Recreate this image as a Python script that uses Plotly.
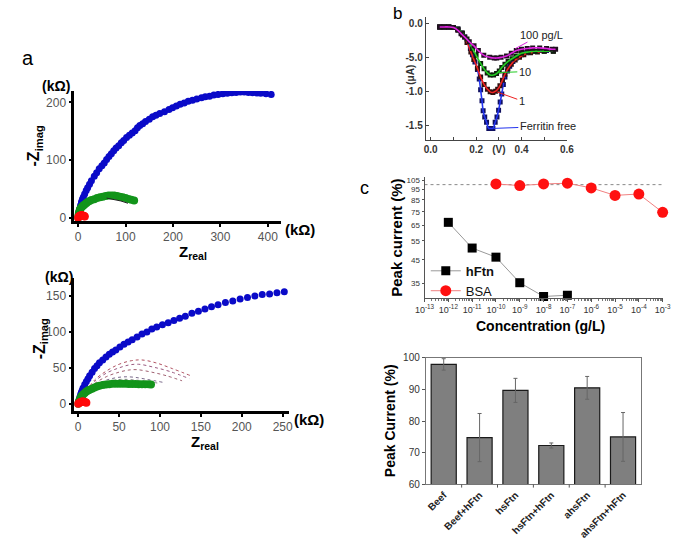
import plotly.graph_objects as go

W, H = 685, 545
FONT = "Liberation Sans, Arial, sans-serif"

# ---------------- Panel a (top): Nyquist ----------------
a1_blue_x = [0, 0.5, 1, 1.5, 2, 2.5, 3.4, 5, 7, 9, 11, 13.7, 17, 20, 24, 28, 34, 39, 44.4, 50, 55, 60, 65, 70, 75, 80, 85.5, 91, 96, 102, 108, 114, 120, 125, 130, 136, 142, 150, 157, 164, 172, 182, 191.5, 199, 207, 215, 223.6, 232, 241, 250, 260, 268, 277, 286, 295, 305, 314.5, 324, 333, 342, 350, 359, 368, 377, 385, 396, 407]
a1_blue_y = [0, 2.5, 5, 7.5, 10, 12.5, 15, 21, 27, 32, 36, 41, 47, 52, 58, 64, 72, 78, 85, 90, 95, 101, 106, 111, 116, 121, 125, 130, 134, 139, 143, 147, 151, 156, 160, 163, 167, 171, 175, 178, 181, 184, 188, 191, 194, 197, 199, 202, 204, 206, 208, 210, 211, 213, 214, 215, 216, 217, 217.5, 218, 218, 217.5, 217, 216.5, 216, 215, 214]
a1_green_x = [0, 0.5, 1, 2, 3, 4, 5, 7, 9, 11, 13.7, 17, 20, 24, 28, 34, 40, 46, 52, 58, 64, 70, 76, 82, 88, 94, 100, 106, 112, 118]
a1_green_y = [0, 3, 6, 9, 12, 14, 16, 18, 20, 21, 23, 25, 27, 29, 30.5, 32, 34, 35.5, 36.5, 37.5, 38.3, 38.5, 38.3, 37.5, 36.5, 35.5, 34, 32.5, 31, 30]
a1_fit_x = [60, 75, 90, 105]
a1_fit_y = [34, 32, 29, 25]
a1_red_x = [0, 1, 2, 3, 4, 5, 6, 7, 8, 9, 10, 11, 12, 13, 14]
a1_red_y = [0, 1.5, 2.5, 3, 3.5, 3.8, 4, 4, 4, 3.8, 3.5, 3.2, 3, 2.5, 2]
a1_xticks = [0, 100, 200, 300, 400]
a1_yticks = [0, 100, 200]

# ---------------- Panel a (bottom): Nyquist ----------------
a2_blue_x = [0, 1, 2, 3, 4, 5, 6, 8, 10, 12, 14, 17, 20, 23, 26, 30, 34, 38, 42, 46, 51, 56, 61, 66, 72, 78, 84, 90, 96, 103, 110, 117, 124, 131, 139, 147, 155, 163, 171, 180, 189, 198, 207, 216, 225, 234, 243, 252]
a2_blue_y = [0, 5, 9, 13, 16, 19, 22, 27, 31, 35, 39, 44, 49, 53, 57, 61, 65, 69, 72, 75, 79, 83, 86, 89, 93, 97, 100, 104, 107, 110, 113, 116, 119, 122, 126, 129, 132, 135, 138, 141, 143, 146, 148, 150, 152, 153, 154.5, 156]
a2_green_x = [0, 1, 2, 3, 4, 5, 6, 8, 10, 12, 14, 17, 20, 23, 26, 30, 34, 38, 42, 46, 50, 54, 58, 62, 66, 70, 74, 78, 82, 86, 89]
a2_green_y = [0, 3, 6, 8.5, 10.5, 12, 13, 15, 17, 18.5, 19.5, 21, 22.5, 24, 25, 26, 26.8, 27.3, 27.8, 28, 28, 28, 27.8, 27.6, 27.5, 27.4, 27.3, 27.3, 27.2, 27.1, 27]
a2_red_x = [0, 1, 2, 3, 4, 5, 6, 7, 8, 9, 10]
a2_red_y = [0, 1, 1.8, 2.4, 2.8, 3, 3, 2.8, 2.5, 2, 1.5]
a2_dot1_x = [10, 20, 35, 50, 65, 78, 95, 115, 140]
a2_dot1_y = [18, 33, 46, 55, 60, 61, 57, 49, 38]
a2_dot2_x = [10, 20, 35, 50, 62, 74, 92, 112, 136]
a2_dot2_y = [17, 31, 43, 50, 54, 55, 51, 45, 35]
a2_dot3_x = [10, 20, 35, 50, 62, 72, 90, 108, 127]
a2_dot3_y = [16, 28, 38, 44, 47, 47.5, 44, 39, 32]
a2_dot4_x = [10, 20, 32, 45, 56, 68, 84, 103]
a2_dot4_y = [15, 25, 32, 36, 37.5, 37, 34, 30]
a2_dot5_x = [10, 20, 30, 42, 53, 66, 82, 99]
a2_dot5_y = [14, 23, 29, 32.5, 34, 33.5, 31.5, 28.5]
a2_xticks = [0, 50, 100, 150, 200, 250]
a2_yticks = [0, 50, 100, 150]

# ---------------- Panel b: DPV ----------------
b_free_x = [0.04, 0.06, 0.08, 0.10, 0.12, 0.135, 0.15, 0.163, 0.175, 0.184, 0.195, 0.206, 0.214, 0.22, 0.226, 0.231, 0.238, 0.246, 0.256, 0.265, 0.274, 0.284, 0.292, 0.299, 0.306, 0.313, 0.32, 0.327, 0.338, 0.348, 0.362, 0.377, 0.40, 0.42, 0.45, 0.48, 0.51, 0.54]
b_free_y = [-0.05, -0.05, -0.05, -0.06, -0.08, -0.14, -0.20, -0.27, -0.37, -0.46, -0.57, -0.68, -0.82, -0.98, -1.14, -1.29, -1.38, -1.46, -1.55, -1.55, -1.55, -1.46, -1.38, -1.28, -1.16, -1.04, -0.90, -0.79, -0.70, -0.63, -0.56, -0.51, -0.46, -0.43, -0.41, -0.40, -0.40, -0.40]
b_1_x = [0.04, 0.06, 0.08, 0.10, 0.12, 0.14, 0.16, 0.177, 0.19, 0.206, 0.22, 0.235, 0.25, 0.262, 0.274, 0.286, 0.295, 0.305, 0.316, 0.327, 0.34, 0.355, 0.372, 0.391, 0.41, 0.44, 0.47, 0.50, 0.54]
b_1_y = [-0.05, -0.05, -0.05, -0.06, -0.09, -0.17, -0.28, -0.42, -0.53, -0.66, -0.79, -0.90, -0.97, -1.01, -1.02, -1.00, -0.97, -0.92, -0.84, -0.75, -0.67, -0.60, -0.54, -0.50, -0.46, -0.43, -0.42, -0.41, -0.41]
b_10_x = [0.04, 0.06, 0.08, 0.10, 0.12, 0.14, 0.16, 0.184, 0.20, 0.22, 0.235, 0.249, 0.262, 0.277, 0.29, 0.302, 0.313, 0.327, 0.341, 0.358, 0.377, 0.40, 0.43, 0.46, 0.50, 0.54]
b_10_y = [-0.05, -0.05, -0.05, -0.06, -0.08, -0.14, -0.23, -0.37, -0.47, -0.59, -0.67, -0.73, -0.76, -0.76, -0.74, -0.70, -0.65, -0.60, -0.56, -0.52, -0.48, -0.44, -0.42, -0.41, -0.41, -0.41]
b_100_x = [0.04, 0.06, 0.08, 0.10, 0.12, 0.134, 0.15, 0.17, 0.191, 0.21, 0.234, 0.26, 0.28, 0.291, 0.31, 0.334, 0.355, 0.377, 0.40, 0.425, 0.449, 0.48, 0.51, 0.534, 0.55]
b_100_y = [-0.05, -0.05, -0.05, -0.06, -0.10, -0.15, -0.20, -0.27, -0.33, -0.40, -0.47, -0.50, -0.51, -0.51, -0.50, -0.48, -0.44, -0.40, -0.38, -0.37, -0.36, -0.36, -0.37, -0.38, -0.38]
b_xtickvals = [0, 0.2, 0.3, 0.4, 0.6]
b_xticktext = ["0.0", "0.2", "(V)", "0.4", "0.6"]
b_ytickvals = [0, -0.5, -1.0, -1.5]
b_yticktext = ["0.0", "-5.0", "-1.0", "-1.5"]
b_labels = ["100 pg/L", "10", "1", "Ferritin free"]
b_label_x = [0.373, 0.30, 0.291, 0.278]
b_label_y = [-0.37, -0.725, -1.01, -1.55]

# ---------------- Panel c: concentration response ----------------
c_hftn_x = [1e-12, 1e-11, 1e-10, 1e-9, 1e-8, 1e-7]
c_hftn_y = [67, 51, 46.3, 35.3, 30.5, 30.9]
c_bsa_x = [1e-10, 1e-9, 1e-8, 1e-7, 1e-6, 1e-5, 1e-4, 1e-3]
c_bsa_y = [100.7, 99.0, 100.7, 101.5, 96.6, 89.2, 90.5, 74.5]
c_ref_x = [1e-13, 1e-3]
c_ref_y = [100, 100]
c_yticks = [35, 45, 55, 65, 75, 85, 95, 105]
c_xexp = list(range(-13, -2))

# ---------------- Bar chart ----------------
bar_cats = ["Beef", "Beef+hFtn", "hsFtn", "hsFtn+hFtn", "ahsFtn", "ahsFtn+hFtn"]
bar_vals = [97.9, 74.8, 89.7, 72.3, 90.5, 75.0]
bar_err = [1.8, 7.6, 3.8, 0.8, 3.6, 7.7]
bar_yticks = [60, 70, 80, 90, 100]


def px_dom_x(p0, p1):
    return [p0 / W, p1 / W]


def px_dom_y(top, bottom):
    return [1 - bottom / H, 1 - top / H]


fig = go.Figure()

BLUE = "#0a0ac8"
GREEN = "#12941a"
RED = "#ff0a0a"

# panel a top
fig.add_trace(go.Scatter(x=a1_blue_x, y=a1_blue_y, mode="markers", marker=dict(color=BLUE, size=7), xaxis="x", yaxis="y", showlegend=False))
fig.add_trace(go.Scatter(x=a1_green_x, y=a1_green_y, mode="markers", marker=dict(color=GREEN, size=8), xaxis="x", yaxis="y", showlegend=False))
fig.add_trace(go.Scatter(x=a1_fit_x, y=a1_fit_y, mode="lines", line=dict(color="#222", width=1), xaxis="x", yaxis="y", showlegend=False))
fig.add_trace(go.Scatter(x=a1_red_x, y=a1_red_y, mode="markers", marker=dict(color=RED, size=8), xaxis="x", yaxis="y", showlegend=False, cliponaxis=False))

# panel a bottom
for dx, dy, col in [(a2_dot1_x, a2_dot1_y, "#b05060"), (a2_dot2_x, a2_dot2_y, "#9a5a80"),
                    (a2_dot3_x, a2_dot3_y, "#a06070"), (a2_dot4_x, a2_dot4_y, "#7a6a8a"),
                    (a2_dot5_x, a2_dot5_y, "#8a8a8a")]:
    fig.add_trace(go.Scatter(x=dx, y=dy, mode="lines", line=dict(color=col, width=1, dash="dot", shape="spline"),
                             xaxis="x2", yaxis="y2", showlegend=False))
fig.add_trace(go.Scatter(x=a2_blue_x, y=a2_blue_y, mode="markers", marker=dict(color=BLUE, size=7), xaxis="x2", yaxis="y2", showlegend=False))
fig.add_trace(go.Scatter(x=a2_green_x, y=a2_green_y, mode="markers", marker=dict(color=GREEN, size=8), xaxis="x2", yaxis="y2", showlegend=False))
fig.add_trace(go.Scatter(x=a2_red_x, y=a2_red_y, mode="markers", marker=dict(color=RED, size=8), xaxis="x2", yaxis="y2", showlegend=False, cliponaxis=False))

# panel b
for bx, by, lc, mc in [(b_free_x, b_free_y, "#2233ee", "#101060"),
                       (b_1_x, b_1_y, "#ee2222", "#301010"),
                       (b_10_x, b_10_y, "#22cc22", "#102010"),
                       (b_100_x, b_100_y, "#dd22dd", "#201020")]:
    fig.add_trace(go.Scatter(x=bx, y=by, mode="markers", marker=dict(symbol="square", color=mc, size=5),
                             xaxis="x3", yaxis="y3", showlegend=False))
    fig.add_trace(go.Scatter(x=bx, y=by, mode="lines", line=dict(color=lc, width=1.6, shape="spline"),
                             xaxis="x3", yaxis="y3", showlegend=False))

# panel c
fig.add_trace(go.Scatter(x=c_ref_x, y=c_ref_y, mode="lines", line=dict(color="#888", width=1, dash="dot"),
                         xaxis="x4", yaxis="y4", showlegend=False))
fig.add_trace(go.Scatter(x=c_hftn_x, y=c_hftn_y, mode="lines+markers", name="<b>hFtn</b>",
                         line=dict(color="#999", width=1), marker=dict(symbol="square", color="black", size=9),
                         xaxis="x4", yaxis="y4", cliponaxis=False))
fig.add_trace(go.Scatter(x=c_bsa_x, y=c_bsa_y, mode="lines+markers", name="BSA",
                         line=dict(color="#f08080", width=1), marker=dict(symbol="circle", color="#ff1010", size=11),
                         xaxis="x4", yaxis="y4", cliponaxis=False))

# bar chart
fig.add_trace(go.Bar(x=bar_cats, y=bar_vals, marker=dict(color="#7f7f7f", line=dict(color="#1a1a1a", width=1.2)),
                     width=0.7, error_y=dict(type="data", array=bar_err, color="#666", thickness=1, width=2),
                     xaxis="x5", yaxis="y5", showlegend=False))

tickfont_a = dict(family=FONT, size=12, color="#555")
axis_a = dict(showline=True, linecolor="black", linewidth=2.5, ticks="outside", ticklen=3, tickwidth=2,
              tickcolor="black", showgrid=False, zeroline=False, tickfont=tickfont_a)

fig.update_layout(
    width=W, height=H, margin=dict(l=0, r=0, t=0, b=0),
    paper_bgcolor="white", plot_bgcolor="white",
    font=dict(family=FONT),
    xaxis=dict(domain=px_dom_x(66, 278), range=[-8.2, 427], tickvals=a1_xticks, anchor="y", **axis_a),
    yaxis=dict(domain=px_dom_y(86.7, 219.5), range=[-5.9, 220], tickvals=a1_yticks, anchor="x", **axis_a),
    xaxis2=dict(domain=px_dom_x(66, 287), range=[-4.8, 258.3], tickvals=a2_xticks, anchor="y2", **axis_a),
    yaxis2=dict(domain=px_dom_y(278, 413.3), range=[-10, 174.6], tickvals=a2_yticks, anchor="x2", **axis_a),
    xaxis3=dict(domain=px_dom_x(427, 572), range=[-0.0214, 0.6], tickvals=b_xtickvals, ticktext=b_xticktext,
                anchor="y3", showline=True, linecolor="#444", linewidth=1, ticks="inside", ticklen=3,
                tickcolor="#444", minor=dict(tickvals=[0.1, 0.5], ticks="inside", ticklen=3, tickcolor="#444"),
                showgrid=False, zeroline=False, tickfont=dict(family=FONT, size=10, color="#333", weight="bold")),
    yaxis3=dict(domain=px_dom_y(11, 137), range=[-1.725, 0.1], tickvals=b_ytickvals, ticktext=b_yticktext,
                anchor="x3", showline=True, linecolor="#444", linewidth=1, ticks="inside", ticklen=3,
                tickcolor="#444", showgrid=False, zeroline=False,
                tickfont=dict(family=FONT, size=10, color="#333", weight="bold")),
    xaxis4=dict(domain=px_dom_x(425.7, 671), type="log", range=[-13.0, -2.97],
                tickvals=[10.0 ** e for e in c_xexp], ticktext=["10<sup>%d</sup>" % e for e in c_xexp],
                anchor="y4", showline=True, linecolor="#555", linewidth=1, ticks="outside", ticklen=3,
                tickcolor="#555",
                minor=dict(tickvals=[k * 10.0 ** e for e in range(-13, -3) for k in range(2, 10)],
                           ticks="outside", ticklen=2, tickcolor="#777"),
                showgrid=False, zeroline=False, tickfont=dict(family=FONT, size=9, color="#333")),
    yaxis4=dict(domain=px_dom_y(175, 298.3), type="log", range=[1.476, 2.033], tickvals=c_yticks,
                anchor="x4", showline=True, linecolor="#555", linewidth=1, ticks="outside", ticklen=2,
                tickcolor="#555", showgrid=False, zeroline=False,
                tickfont=dict(family=FONT, size=8, color="#333")),
    xaxis5=dict(domain=px_dom_x(427, 648), range=[-0.5, 5.5], anchor="y5", showline=True, mirror=True,
                linecolor="#777", linewidth=1, ticks="", tickangle=-45,
                tickfont=dict(family=FONT, size=10, color="#222", weight="bold"), showgrid=False),
    yaxis5=dict(domain=px_dom_y(359, 488.3), range=[60, 100], tickvals=bar_yticks, anchor="x5", showline=True,
                mirror=True, linecolor="#777", linewidth=1, ticks="outside", ticklen=3, tickcolor="#555",
                showgrid=False, zeroline=False, tickfont=dict(family=FONT, size=10, color="#333")),
    legend=dict(x=427 / W, y=1 - 255 / H, xanchor="left", yanchor="top", bgcolor="rgba(0,0,0,0)",
                font=dict(family=FONT, size=13, color="#111"), tracegroupgap=0, itemwidth=30),
    bargap=0.3,
)

# bar chart inter-category tick marks
shapes = []
for i in range(1, 6):
    shapes.append(dict(type="line", xref="x5", yref="paper", x0=i - 0.5, x1=i - 0.5,
                       y0=1 - 488.3 / H, y1=1 - 491.5 / H, line=dict(color="#555", width=1)))
fig.update_layout(shapes=shapes)


def ann(text, px, py, size, bold=False, angle=0, color="black", xanchor="center"):
    if bold:
        text = "<b>" + text + "</b>"
    fig.add_annotation(text=text, x=px / W, y=1 - py / H, xref="paper", yref="paper", showarrow=False,
                       font=dict(family=FONT, size=size, color=color), textangle=angle,
                       xanchor=xanchor, yanchor="middle")


ann("a", 18, 53, 20)
ann("(kΩ)", 47, 82, 14, bold=True)
ann("-Z<sub>imag</sub>", 25, 143, 16, bold=True, angle=-90)
ann("Z<sub>real</sub>", 188, 252, 15, bold=True)
ann("(kΩ)", 298, 228, 15, bold=True)
ann("(kΩ)", 50, 277, 14, bold=True)
ann("-Z<sub>imag</sub>", 31, 340, 16, bold=True, angle=-90)
ann("Z<sub>real</sub>", 200, 445, 15, bold=True)
ann("(kΩ)", 307, 422, 15, bold=True)
ann("b", 398, 8, 17)
ann("(μA)", 411, 70, 10, bold=True, angle=-90, color="#333")
ann("c", 364, 186, 18)
ann("Peak current (%)", 397, 237, 15, bold=True, angle=-90)
ann("Concentration (g/L)", 545, 327, 14, bold=True)
ann("Peak Current (%)", 391, 423, 14, bold=True, angle=-90)

# panel b labels with leader lines (text box centred at the arrow tail)
for txt, x, y, ax, ay, col in zip(b_labels, b_label_x, b_label_y,
                                  [26, 26, 25, 54], [-14, -1, 9, -2],
                                  ["#dd22dd", "#22cc22", "#ee2222", "#2233ee"]):
    fig.add_annotation(text=txt, x=x, y=y, xref="x3", yref="y3", ax=ax, ay=ay, showarrow=True,
                       arrowhead=0, arrowwidth=1, arrowcolor=col,
                       font=dict(family=FONT, size=11, color="#222"))

fig.write_html("out.html", config={"displayModeBar": False},
               post_script="document.body.style.margin='0';")
